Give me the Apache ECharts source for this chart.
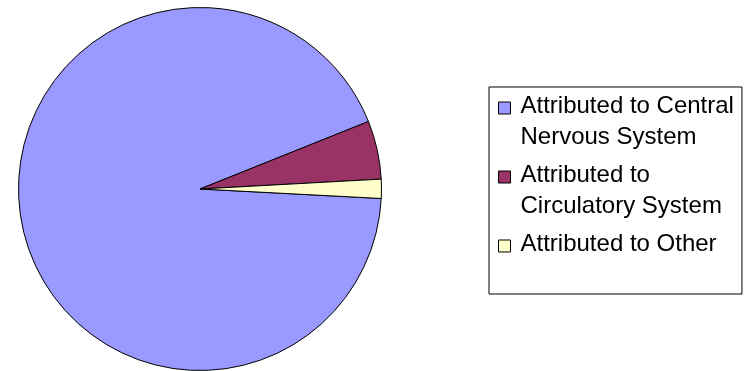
<!DOCTYPE html>
<html>
<head>
<meta charset="utf-8">
<script src="https://cdn.jsdelivr.net/npm/echarts@6/dist/echarts.min.js"></script>
<style>
  html, body { margin: 0; padding: 0; background: #fff; }
  #chart { width: 747px; height: 371px; }
</style>
</head>
<body>
<div id="chart"></div>
<script>
// Share of cases by attributed system (percent)
const categories = [
  'Attributed to Central Nervous System',
  'Attributed to Circulatory System',
  'Attributed to Other'
];
const shares = [93.1, 5.2, 1.7];
// Legend text, broken over lines
const legendLines = [
  ['Attributed to Central', 'Nervous System'],
  ['Attributed to', 'Circulatory System'],
  ['Attributed to Other']
];
const colors = ['#9999FF', '#993366', '#FFFFCC'];

const chart = echarts.init(document.getElementById('chart'), null, { renderer: 'canvas' });

const LINE_H = 31;          // legend line height
const ROW_LINES = 2;        // every legend row is laid out as two lines
const ITEM_H = LINE_H * ROW_LINES;
const SQ = 12;              // legend swatch size

// Swatch path: a square level with the first text line of the row; the
// bare move-to points keep the path box as tall as the row.
function swatchPath() {
  const firstLineMid = ITEM_H / 2 - (ROW_LINES - 1) * LINE_H / 2;
  const top = firstLineMid + 2 - SQ / 2;
  return 'path://M0,0 M0,' + top + ' h' + SQ + ' v' + SQ + ' h-' + SQ + ' Z M' + SQ + ',' + ITEM_H;
}

chart.setOption({
  animation: false,
  backgroundColor: '#ffffff',
  color: colors,
  legend: {
    orient: 'vertical',
    left: 489,
    top: 87,
    padding: [3, 8, 3, 9],
    itemGap: 6,
    itemWidth: SQ,
    itemHeight: ITEM_H,
    icon: swatchPath(),
    borderColor: '#000',
    borderWidth: 1,
    selectedMode: false,
    itemStyle: { borderColor: '#000', borderWidth: 1 },
    textStyle: {
      fontFamily: '"Liberation Sans", Arial, sans-serif',
      fontSize: 24,
      lineHeight: LINE_H,
      color: '#000',
      padding: [0, 0, 0, 5]
    },
    formatter: function (name) {
      const lines = legendLines[categories.indexOf(name)].slice();
      while (lines.length < ROW_LINES) lines.push('');
      return lines.join('\n');
    },
    data: categories
  },
  series: [{
    type: 'pie',
    center: [200, 189],
    radius: 181.5,
    startAngle: -3,
    clockwise: true,
    label: { show: false },
    labelLine: { show: false },
    emphasis: { disabled: true },
    itemStyle: { borderColor: '#000', borderWidth: 1 },
    data: categories.map((name, i) => ({ name: name, value: shares[i] }))
  }]
});
</script>
</body>
</html>
